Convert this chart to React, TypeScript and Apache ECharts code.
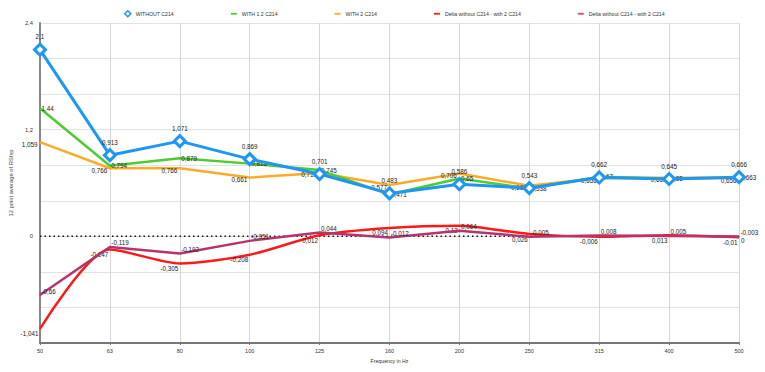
import React, { useEffect, useRef } from "react";
import * as echarts from "echarts";

const categories = ["50", "63", "80", "100", "125", "160", "200", "250", "315", "400", "500"];
const withoutC214 = [2.1, 0.913, 1.071, 0.869, 0.701, 0.483, 0.586, 0.543, 0.662, 0.645, 0.666];
const with12C214 = [1.44, 0.794, 0.879, 0.818, 0.745, 0.471, 0.65, 0.538, 0.67, 0.65, 0.663];
const with2C214 = [1.059, 0.766, 0.766, 0.661, 0.713, 0.577, 0.706, 0.569, 0.656, 0.658, 0.656];
const deltaRed = [-1.041, -0.147, -0.305, -0.208, 0.012, 0.094, 0.12, 0.026, -0.006, 0.013, -0.01];
const deltaPurple = [-0.66, -0.119, -0.192, -0.051, 0.044, -0.012, 0.064, -0.005, 0.008, 0.005, -0.003];
const zeroLine = [0, 0, 0, 0, 0, 0, 0, 0, 0, 0, 0];

const names = [
  "WITHOUT C214",
  "WITH 1 2 C214",
  "WITH 2 C214",
  "Delta without C214 - with 2 C214",
  "Delta without C214 - with 2 C214 ",
];

const FONT = "'Liberation Sans', Arial, Helvetica, sans-serif";
const fmt = (v: number) => String(+Number(v).toFixed(3)).replace(".", ",");

export default function App() {
  const ref = useRef<HTMLDivElement>(null);
  useEffect(() => {
    if (!ref.current) return;
    const chart = echarts.init(ref.current, undefined, { renderer: "svg" });
    const blue = "#1e96f5";
    const green = "#4ccc2e";
    const orange = "#fbab2a";
    const red = "#fb1a1a";
    const purple = "#b8336e";
    const lineIcon = "path://M0,0h10v3h-10z";
    const lbl = (position: any, offset: number[]) => ({
      show: true,
      position,
      offset,
      distance: 3,
      fontSize: 6.3,
      color: "#222",
      fontFamily: FONT,
      formatter: (p: any) => fmt(p.value),
    });
    chart.setOption({
      animation: false,
      textStyle: { fontFamily: FONT },
      legend: {
        top: 5,
        left: 119,
        itemGap: 57,
        itemWidth: 6,
        itemHeight: 6,
        textStyle: { fontSize: 5.2, color: "#333", fontFamily: FONT },
        data: [
          { name: names[0], icon: "diamond", itemStyle: { color: "#fff", borderColor: blue, borderWidth: 1.5 } },
          { name: names[1], icon: lineIcon, itemStyle: { color: green } },
          { name: names[2], icon: lineIcon, itemStyle: { color: orange } },
          { name: names[3], icon: lineIcon, itemStyle: { color: red } },
          { name: names[4], icon: lineIcon, itemStyle: { color: "#e8406e" } },
        ],
        formatter: (n: string) => n.trim(),
      },
      grid: { left: 34, right: 26, top: 23, bottom: 29 },
      xAxis: {
        type: "category",
        data: categories,
        boundaryGap: false,
        name: "Frequency in Hz",
        nameLocation: "middle",
        nameGap: 15,
        nameTextStyle: { fontSize: 5.2, color: "#333", fontFamily: FONT },
        axisLine: { onZero: false, lineStyle: { color: "#777", width: 2 } },
        axisTick: { show: true, length: 2, lineStyle: { color: "#777" } },
        axisLabel: { fontSize: 5.5, color: "#333", margin: 5, fontFamily: FONT },
        splitLine: { show: true, lineStyle: { color: "#d6d6d6", width: 1 } },
      },
      yAxis: {
        type: "value",
        min: -1.2,
        max: 2.4,
        interval: 0.4,
        name: "12 point average of RSfsp",
        nameLocation: "middle",
        nameGap: 21,
        nameRotate: 90,
        nameTextStyle: { fontSize: 5.8, color: "#444", fontFamily: FONT },
        axisLine: { show: true, lineStyle: { color: "#888", width: 2 } },
        axisTick: { show: false },
        axisLabel: {
          fontSize: 5.8,
          color: "#333",
          margin: 7,
          fontFamily: FONT,
          formatter: (v: number) => {
            const r = v / 1.2;
            if (Math.abs(r - Math.round(r)) < 1e-6 && v > -1.1) return fmt(v);
            return "";
          },
        },
        splitLine: { show: true, lineStyle: { color: "#e2e2e2", width: 1 } },
      },
      series: [
        {
          name: "zero",
          type: "line",
          data: zeroLine,
          symbol: "none",
          lineStyle: { color: "#111", width: 1.5, type: [1.5, 3] },
          endLabel: {
            show: true,
            distance: 2,
            offset: [0, 4],
            fontSize: 6.3,
            color: "#222",
            formatter: "0",
          },
          z: 1,
          silent: true,
        },
        {
          name: names[3],
          type: "line",
          data: deltaRed,
          smooth: 0.25,
          symbol: "circle",
          symbolSize: 1,
          showSymbol: true,
          itemStyle: { color: red },
          lineStyle: { color: red, width: 2.5 },
          label: lbl("left", [2, 5]),
          z: 2,
        },
        {
          name: names[4],
          type: "line",
          data: deltaPurple,
          symbol: "circle",
          symbolSize: 1,
          itemStyle: { color: purple },
          lineStyle: { color: purple, width: 2.5 },
          label: lbl("right", [-2, -4]),
          z: 3,
        },
        {
          name: names[2],
          type: "line",
          data: with2C214,
          symbol: "circle",
          symbolSize: 1,
          itemStyle: { color: orange },
          lineStyle: { color: orange, width: 2.5 },
          label: lbl("left", [1, 2]),
          z: 4,
        },
        {
          name: names[1],
          type: "line",
          data: with12C214,
          symbol: "circle",
          symbolSize: 1,
          itemStyle: { color: green },
          lineStyle: { color: green, width: 2.5 },
          label: lbl("right", [-2, 0]),
          z: 5,
        },
        {
          name: names[0],
          type: "line",
          data: withoutC214,
          symbol: "diamond",
          symbolSize: 11,
          itemStyle: { color: "#fff", borderColor: blue, borderWidth: 3 },
          lineStyle: { color: blue, width: 3 },
          label: lbl("top", [0, 0]),
          z: 6,
        },
      ],
    });
    return () => chart.dispose();
  }, []);
  return (
    <div
      ref={ref}
      style={{ position: "fixed", left: 0, top: 0, width: 765, height: 372, background: "#fff" }}
    />
  );
}
